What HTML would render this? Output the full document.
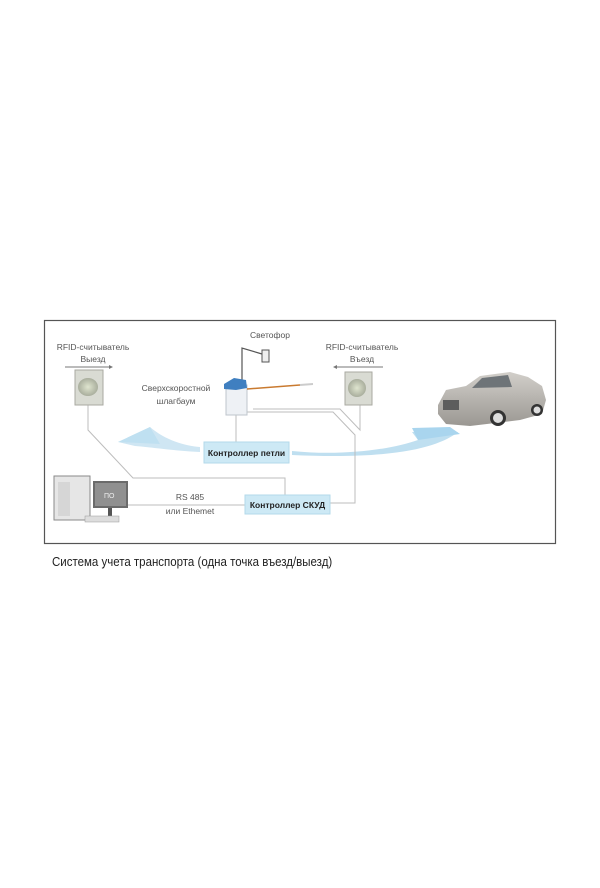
<!DOCTYPE html>
<html><head><meta charset="utf-8"><style>
html,body{margin:0;padding:0;background:#fff;width:600px;height:888px;overflow:hidden}
svg{position:absolute;left:0;top:0}
text{font-family:"Liberation Sans",sans-serif}
</style></head><body>
<svg width="600" height="888" viewBox="0 0 600 888">
<defs>
<linearGradient id="car" x1="0" y1="0" x2="0" y2="1"><stop offset="0" stop-color="#d2cfca"/><stop offset="1" stop-color="#9a9792"/></linearGradient>
<radialGradient id="rd" cx="0.5" cy="0.5" r="0.5"><stop offset="0" stop-color="#dfe5cf"/><stop offset="1" stop-color="#a9ae9d"/></radialGradient>
</defs>
<rect x="44.5" y="320.5" width="511" height="223" fill="#fff" stroke="#555" stroke-width="1.2"/>
<!-- swooshes -->
<path d="M118,442 L150,427 C165,440 185,446 200,447 L200,452 C175,451 150,447 135,446 Z" fill="#cfe6f3"/>
<path d="M118,442 L150,427 L160,444 Z" fill="#bfe0f1"/>
<path d="M292,451 C340,456 390,450 418,440 L412,432 L458,432 C440,446 400,460 292,455 Z" fill="#bfdff0"/>
<path d="M412,428 L450,427 L460,434 L418,440 Z" fill="#a9d5ee"/>
<!-- lines -->
<g stroke="#bdbdbd" stroke-width="1" fill="none">
<polyline points="88,405 88,430 133,478 285,478 285,495"/>
<line x1="236" y1="415" x2="236" y2="442"/>
<polyline points="247,412 333,412 355,435 355,503 330,503"/>
<polyline points="253,409 340,409 360,430 360,405"/>
<line x1="128" y1="505" x2="245" y2="505"/>
</g>
<!-- readers -->
<rect x="75" y="370" width="28" height="35" fill="#d9dbd3" stroke="#a9aaa2"/>
<ellipse cx="88" cy="387" rx="10" ry="9" fill="url(#rd)"/>
<rect x="345" y="372" width="27" height="33" fill="#d9dbd3" stroke="#a9aaa2"/>
<ellipse cx="357" cy="388" rx="9" ry="9" fill="url(#rd)"/>
<!-- arrows -->
<g stroke="#777" stroke-width="1"><line x1="65" y1="367" x2="112" y2="367"/><line x1="335" y1="367" x2="383" y2="367"/></g>
<path d="M113,367 l-4,-2 v4z M333,367 l4,-2 v4z" fill="#777"/>
<!-- labels -->
<g font-size="8.5" fill="#555" text-anchor="middle">
<text x="270" y="338">Светофор</text>
<text x="93" y="350">RFID-считыватель</text><text x="93" y="362">Выезд</text>
<text x="362" y="350">RFID-считыватель</text><text x="362" y="362">Въезд</text>
<text x="176" y="391">Сверхскоростной</text><text x="176" y="404">шлагбаум</text>
<text x="190" y="500">RS 485</text><text x="190" y="514">или Ethemet</text>
</g>
<!-- traffic light -->
<polyline points="242,380 242,348 262,354" stroke="#555" fill="none" stroke-width="1.2"/>
<rect x="262" y="350" width="7" height="12" fill="#eee" stroke="#555"/>
<!-- barrier -->
<rect x="226" y="385" width="21" height="30" fill="#eef1f5" stroke="#bfc5cc"/>
<path d="M224,384 L234,378 L246,380 L247,388 L236,390 L224,389Z" fill="#3f7fc0"/>
<line x1="247" y1="389" x2="300" y2="385" stroke="#c97a30" stroke-width="1.5"/>
<line x1="300" y1="385" x2="313" y2="384" stroke="#ccc" stroke-width="2"/>
<!-- controllers -->
<rect x="204" y="442" width="85" height="21" fill="#cde9f5" stroke="#b3d9ea"/>
<text x="246.5" y="456" font-size="8.5" font-weight="bold" fill="#222" text-anchor="middle">Контроллер петли</text>
<rect x="245" y="495" width="85" height="19" fill="#cde9f5" stroke="#b3d9ea"/>
<text x="287.5" y="508" font-size="8.5" font-weight="bold" fill="#222" text-anchor="middle">Контроллер СКУД</text>
<!-- computer -->
<rect x="54" y="476" width="36" height="44" fill="#e6e6e6" stroke="#8a8a8a"/>
<rect x="58" y="482" width="12" height="34" fill="#d6d6d6"/>
<rect x="93" y="481" width="35" height="27" fill="#6b6b6b"/>
<rect x="95" y="483" width="31" height="23" fill="#909090"/>
<text x="104" y="498" font-size="7" fill="#eee">ПО</text>
<rect x="108" y="508" width="4" height="8" fill="#555"/>
<rect x="85" y="516" width="34" height="6" fill="#ddd" stroke="#999" stroke-width="0.5"/>
<!-- car -->
<path d="M438,405 L446,390 L466,386 L480,376 L510,372 L528,377 L542,386 L546,400 L542,414 L520,420 L470,426 L446,424 L438,414Z" fill="url(#car)"/>
<path d="M472,388 L482,378 L508,375 L512,387Z" fill="#6e7478"/>
<rect x="443" y="400" width="16" height="10" fill="#5d5d5d"/>
<circle cx="498" cy="418" r="8" fill="#333"/><circle cx="498" cy="418" r="5" fill="#ddd"/>
<circle cx="537" cy="410" r="6" fill="#333"/><circle cx="537" cy="410" r="3.5" fill="#ddd"/>
<!-- caption -->
<text x="52" y="566" font-size="12.5" fill="#222" transform="scale(0.92,1)" transform-origin="52 566">Система учета транспорта (одна точка въезд/выезд)</text>
</svg>
</body></html>
